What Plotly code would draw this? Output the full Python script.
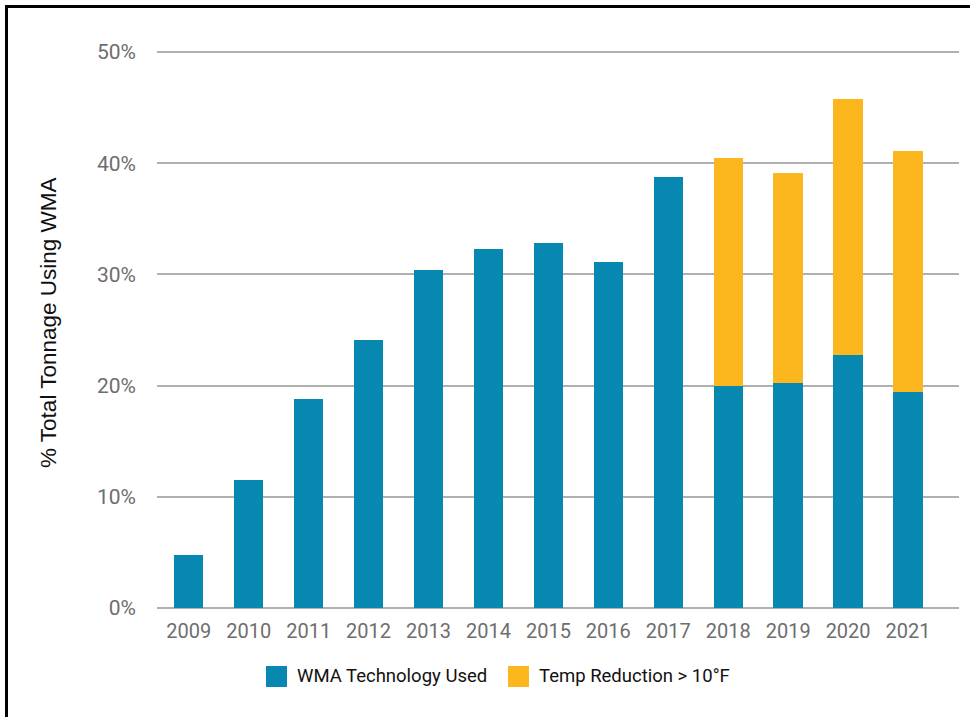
import plotly.graph_objects as go

years = ["2009", "2010", "2011", "2012", "2013", "2014", "2015", "2016",
         "2017", "2018", "2019", "2020", "2021"]
wma_used = [4.8, 11.5, 18.8, 24.1, 30.4, 32.3, 32.8, 31.1, 38.8, 20.0, 20.2, 22.8, 19.4]
temp_reduction = [0, 0, 0, 0, 0, 0, 0, 0, 0, 20.5, 18.9, 23.0, 21.7]
series_names = ["WMA Technology Used", "Temp Reduction > 10°F"]
y_ticks = [0, 10, 20, 30, 40, 50]
y_tick_text = ["0%", "10%", "20%", "30%", "40%", "50%"]

BLUE = "#0788B0"
ORANGE = "#FDB71E"
GRID = "#B0B0B0"
TICK = "#6E6E6E"
FONT = "Roboto"

W, H = 970, 717
L, R, T, B = 157, 11, 51, 109
PW, PH = W - L - R, H - T - B


def px(x):
    return (x - L) / PW


def py(y):
    return (H - B - y) / PH


fig = go.Figure()
fig.add_trace(go.Bar(x=years, y=wma_used, name=series_names[0],
                     marker=dict(color=BLUE, line=dict(width=0)), showlegend=False))
fig.add_trace(go.Bar(x=years, y=temp_reduction, name=series_names[1],
                     marker=dict(color=ORANGE, line=dict(width=0)), showlegend=False))

shapes = [
    # frame (top and left edges)
    dict(type="line", xref="paper", yref="paper", x0=px(5), x1=px(975), y0=py(6.5), y1=py(6.5),
         line=dict(color="black", width=3)),
    dict(type="line", xref="paper", yref="paper", x0=px(6.5), x1=px(6.5), y0=py(5), y1=py(720),
         line=dict(color="black", width=3)),
    # legend swatches
    dict(type="rect", xref="paper", yref="paper", x0=px(266), x1=px(287), y0=py(666), y1=py(687),
         fillcolor=BLUE, line=dict(width=0)),
    dict(type="rect", xref="paper", yref="paper", x0=px(508), x1=px(529), y0=py(666), y1=py(687),
         fillcolor=ORANGE, line=dict(width=0)),
]

annotations = [
    dict(text="% Total Tonnage Using WMA", xref="paper", yref="paper", x=px(48), y=py(323),
         textangle=-90, showarrow=False, xanchor="center", yanchor="middle",
         font=dict(family="Liberation Sans, Arial", size=22.5, color="#111111")),
    dict(text=series_names[0], xref="paper", yref="paper", x=px(295), y=py(676),
         showarrow=False, xanchor="left", yanchor="middle",
         font=dict(family=FONT, size=18.5, color="#111111")),
    dict(text=series_names[1], xref="paper", yref="paper", x=px(537), y=py(676),
         showarrow=False, xanchor="left", yanchor="middle",
         font=dict(family=FONT, size=18.5, color="#111111")),
]

fig.update_layout(
    width=W, height=H,
    margin=dict(l=L, r=R, t=T, b=B, autoexpand=False),
    barmode="stack", bargap=0.51,
    plot_bgcolor="white", paper_bgcolor="white",
    shapes=shapes, annotations=annotations,
    xaxis=dict(type="category", range=[-0.53, 12.85], showgrid=False, showline=False,
               ticks="", tickfont=dict(family=FONT, size=20, color=TICK),
               ticklabelstandoff=9, fixedrange=True),
    yaxis=dict(range=[0, 50.1], tickvals=y_ticks, ticktext=y_tick_text,
               showgrid=True, gridcolor=GRID, gridwidth=2,
               zeroline=True, zerolinecolor=GRID, zerolinewidth=2,
               showline=False, ticks="", ticklabelstandoff=20,
               tickfont=dict(family=FONT, size=21, color=TICK), fixedrange=True),
    showlegend=False,
)

fig.write_html("out.html", config={"displayModeBar": False},
               post_script="document.body.style.margin='0';document.body.style.overflow='hidden';")
